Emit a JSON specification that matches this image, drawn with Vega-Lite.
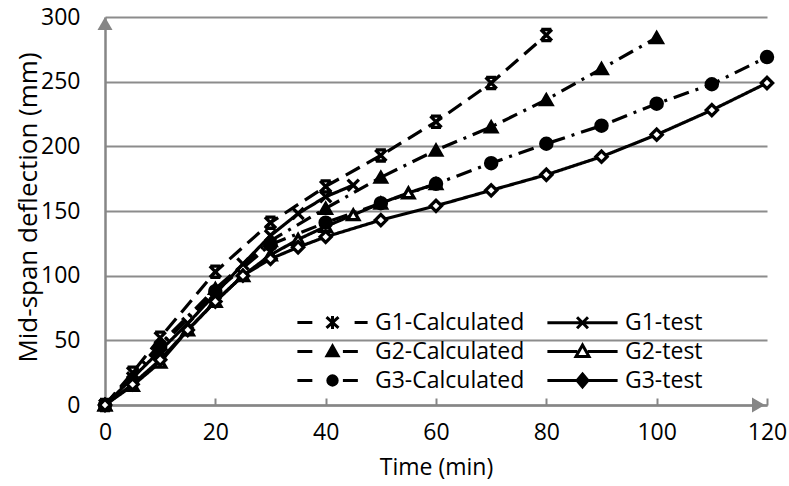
{
  "$schema": "https://vega.github.io/schema/vega-lite/v6.json",
  "autosize": "none",
  "width": 662,
  "height": 388,
  "padding": {"left": 105, "top": 17, "right": 22, "bottom": 81},
  "config": {
    "view": {"stroke": null},
    "font": "Open Sans",
    "legend": {
      "orient": "none", "legendX": 213, "legendY": 291, "direction": "horizontal",
      "columns": 2, "title": null, "padding": 0,
      "symbolSize": 676, "symbolStrokeWidth": 3, "symbolOpacity": 1,
      "labelFont": "Open Sans", "labelFontSize": 23, "labelColor": "black",
      "labelOffset": 28, "rowPadding": 2, "columnPadding": 16
    }
  },
  "datasets": {
    "curves": [
      {"series": "G1-Calculated", "t": 0, "d": 0},
      {"series": "G1-Calculated", "t": 5, "d": 25},
      {"series": "G1-Calculated", "t": 10, "d": 52},
      {"series": "G1-Calculated", "t": 20, "d": 103},
      {"series": "G1-Calculated", "t": 30, "d": 141},
      {"series": "G1-Calculated", "t": 40, "d": 169},
      {"series": "G1-Calculated", "t": 50, "d": 193},
      {"series": "G1-Calculated", "t": 60, "d": 219},
      {"series": "G1-Calculated", "t": 70, "d": 249},
      {"series": "G1-Calculated", "t": 80, "d": 286},
      {"series": "G1-test", "t": 0, "d": 0},
      {"series": "G1-test", "t": 5, "d": 21},
      {"series": "G1-test", "t": 10, "d": 42},
      {"series": "G1-test", "t": 15, "d": 63},
      {"series": "G1-test", "t": 20, "d": 86},
      {"series": "G1-test", "t": 25, "d": 109},
      {"series": "G1-test", "t": 30, "d": 131},
      {"series": "G1-test", "t": 35, "d": 148},
      {"series": "G1-test", "t": 40, "d": 161},
      {"series": "G1-test", "t": 45, "d": 170},
      {"series": "G2-Calculated", "t": 0, "d": 0},
      {"series": "G2-Calculated", "t": 10, "d": 47},
      {"series": "G2-Calculated", "t": 20, "d": 90},
      {"series": "G2-Calculated", "t": 30, "d": 127},
      {"series": "G2-Calculated", "t": 40, "d": 152},
      {"series": "G2-Calculated", "t": 50, "d": 176},
      {"series": "G2-Calculated", "t": 60, "d": 197},
      {"series": "G2-Calculated", "t": 70, "d": 215},
      {"series": "G2-Calculated", "t": 80, "d": 236},
      {"series": "G2-Calculated", "t": 90, "d": 260},
      {"series": "G2-Calculated", "t": 100, "d": 284},
      {"series": "G2-test", "t": 0, "d": 0},
      {"series": "G2-test", "t": 5, "d": 15},
      {"series": "G2-test", "t": 10, "d": 33},
      {"series": "G2-test", "t": 15, "d": 58},
      {"series": "G2-test", "t": 20, "d": 80},
      {"series": "G2-test", "t": 25, "d": 100},
      {"series": "G2-test", "t": 30, "d": 116},
      {"series": "G2-test", "t": 35, "d": 128},
      {"series": "G2-test", "t": 40, "d": 138},
      {"series": "G2-test", "t": 45, "d": 147},
      {"series": "G2-test", "t": 50, "d": 156},
      {"series": "G2-test", "t": 55, "d": 164},
      {"series": "G2-test", "t": 60, "d": 171},
      {"series": "G3-Calculated", "t": 0, "d": 0},
      {"series": "G3-Calculated", "t": 10, "d": 45},
      {"series": "G3-Calculated", "t": 20, "d": 88},
      {"series": "G3-Calculated", "t": 30, "d": 124},
      {"series": "G3-Calculated", "t": 40, "d": 141},
      {"series": "G3-Calculated", "t": 50, "d": 156},
      {"series": "G3-Calculated", "t": 60, "d": 171},
      {"series": "G3-Calculated", "t": 70, "d": 187},
      {"series": "G3-Calculated", "t": 80, "d": 202},
      {"series": "G3-Calculated", "t": 90, "d": 216},
      {"series": "G3-Calculated", "t": 100, "d": 233},
      {"series": "G3-Calculated", "t": 110, "d": 248},
      {"series": "G3-Calculated", "t": 120, "d": 269},
      {"series": "G3-test", "t": 0, "d": 0},
      {"series": "G3-test", "t": 5, "d": 16},
      {"series": "G3-test", "t": 10, "d": 35},
      {"series": "G3-test", "t": 15, "d": 58},
      {"series": "G3-test", "t": 20, "d": 80},
      {"series": "G3-test", "t": 25, "d": 100},
      {"series": "G3-test", "t": 30, "d": 113},
      {"series": "G3-test", "t": 35, "d": 122},
      {"series": "G3-test", "t": 40, "d": 130},
      {"series": "G3-test", "t": 50, "d": 143},
      {"series": "G3-test", "t": 60, "d": 154},
      {"series": "G3-test", "t": 70, "d": 166},
      {"series": "G3-test", "t": 80, "d": 178},
      {"series": "G3-test", "t": 90, "d": 192},
      {"series": "G3-test", "t": 100, "d": 209},
      {"series": "G3-test", "t": 110, "d": 228},
      {"series": "G3-test", "t": 120, "d": 249}
    ],
    "yTip": [{"t": 0, "d": 300}],
    "xTip": [{"t": 120, "d": 0}]
  },
  "encoding": {
    "x": {
      "field": "t", "type": "quantitative",
      "scale": {"domain": [0, 120], "nice": false},
      "axis": {
        "values": [0, 20, 40, 60, 80, 100, 120],
        "grid": false,
        "domainColor": "#868686", "domainWidth": 2.5,
        "tickColor": "#868686", "tickWidth": 2, "tickSize": -7,
        "labelPadding": 23, "labelFontSize": 23, "labelFont": "Open Sans", "labelColor": "black", "labelFlush": false,
        "title": "Time (min)", "titleFontSize": 23, "titleFont": "Open Sans", "titleFontWeight": "normal", "titleColor": "black",
        "titleY": 62, "titleBaseline": "middle"
      }
    },
    "y": {
      "field": "d", "type": "quantitative",
      "scale": {"domain": [0, 300], "nice": false},
      "axis": {
        "values": [0, 50, 100, 150, 200, 250, 300],
        "grid": true, "gridColor": "#8c8c8c", "gridWidth": 2,
        "ticks": false, "tickSize": 0,
        "domainColor": "#868686", "domainWidth": 2.5,
        "labelPadding": 25, "labelFontSize": 23, "labelFont": "Open Sans", "labelColor": "black",
        "title": "Mid-span deflection (mm)", "titleFontSize": 26, "titleFont": "Open Sans", "titleFontWeight": "normal", "titleColor": "black",
        "titleX": -77, "titleY": 190, "titleBaseline": "middle", "titleAlign": "center", "titleAngle": -90
      }
    }
  },
  "resolve": {"scale": {"shape": "independent", "fill": "independent", "strokeDash": "independent"}},
  "layer": [
    {
      "data": {"name": "curves"},
      "mark": {"type": "line", "color": "black", "strokeWidth": 3.2},
      "encoding": {
        "strokeDash": {
          "field": "series", "type": "nominal",
          "scale": {
            "domain": ["G1-Calculated", "G1-test", "G2-Calculated", "G2-test", "G3-Calculated", "G3-test"],
            "range": [[16, 8], [1, 0], [16, 7, 3, 7], [1, 0], [16, 7, 3, 7], [1, 0]]
          },
          "legend": null
        }
      }
    },
    {
      "data": {"name": "curves"},
      "mark": {"type": "point", "filled": true, "stroke": "black", "strokeWidth": 3.3, "size": 125, "opacity": 1},
      "encoding": {
        "fill": {
          "field": "series", "type": "nominal",
          "scale": {
            "domain": ["G1-Calculated", "G1-test", "G2-Calculated", "G2-test", "G3-Calculated", "G3-test"],
            "range": ["black", "black", "black", "white", "black", "white"]
          },
          "legend": null
        },
        "shape": {
          "field": "series", "type": "nominal",
          "scale": {
            "domain": ["G1-Calculated", "G1-test", "G2-Calculated", "G2-test", "G3-Calculated", "G3-test"],
            "range": ["M-1,-1L1,1M-1,1L1,-1M-0.9,-1H0.9M-0.9,1H0.9", "M-1,-1L1,1M-1,1L1,-1", "triangle-up", "triangle-up", "circle", "diamond"]
          },
          "legend": null
        }
      }
    },
    {
      "data": {"name": "curves"},
      "mark": {"type": "point", "filled": true, "stroke": "black", "strokeWidth": 3, "opacity": 0},
      "encoding": {
        "fill": {
          "field": "series", "type": "nominal",
          "scale": {
            "domain": ["G1-Calculated", "G1-test", "G2-Calculated", "G2-test", "G3-Calculated", "G3-test"],
            "range": ["black", "black", "black", "white", "black", "black"]
          }
        },
        "shape": {
          "field": "series", "type": "nominal",
          "scale": {
            "domain": ["G1-Calculated", "G1-test", "G2-Calculated", "G2-test", "G3-Calculated", "G3-test"],
            "range": [
              "M-2.7,0H-1.55M1.7,0H2.7M-0.46,-0.42L0.46,0.42M-0.46,0.42L0.46,-0.42M0,-0.5V0.5",
              "M-2.7,0H2.7M-0.42,-0.42L0.42,0.42M-0.42,0.42L0.42,-0.42",
              "M-2.7,0H-1.55M0.8,0H1.95M0,-0.42L0.42,0.32L-0.42,0.32Z",
              "M-2.7,0H-0.4M0.4,0H2.7M0,-0.5L0.5,0.38L-0.5,0.38Z",
              "M-2.7,0H-1.55M0.8,0H1.95M-0.36,0A0.36,0.36 0 1,0 0.36,0A0.36,0.36 0 1,0 -0.36,0Z",
              "M-2.7,0H2.7M0,-0.5L0.42,0L0,0.5L-0.42,0Z"
            ]
          }
        }
      }
    },
    {
      "data": {"name": "yTip"},
      "mark": {"type": "point", "shape": "triangle-up", "filled": true, "color": "#868686", "size": 225, "yOffset": 6.5, "opacity": 1}
    },
    {
      "data": {"name": "xTip"},
      "mark": {"type": "point", "shape": "triangle-right", "filled": true, "color": "#868686", "size": 225, "xOffset": -8.5, "opacity": 1}
    }
  ]
}
